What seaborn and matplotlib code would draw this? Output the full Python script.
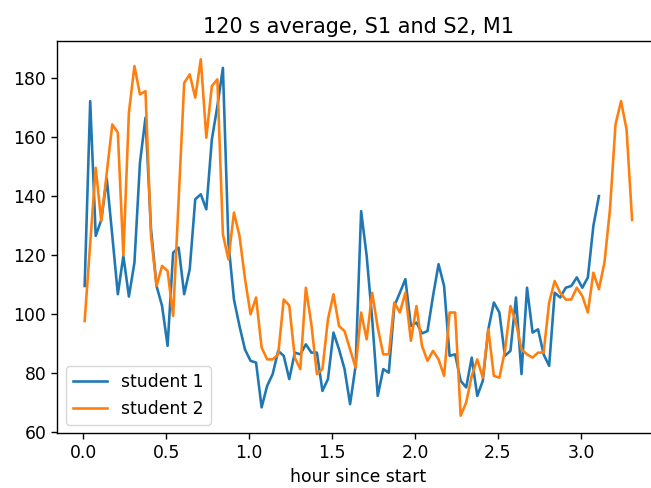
import numpy as np
import pandas as pd
import matplotlib
matplotlib.use("Agg")
import matplotlib.pyplot as plt
import seaborn as sns

# 120 s averages
student_1 = [109.6, 172.3, 126.6, 132.0, 146.0, 126.6, 106.8, 119.8, 106.0, 117.5,
             151.4, 166.7, 128.8, 109.6, 102.8, 89.3, 120.9, 122.6, 106.8, 115.3,
             139.0, 140.7, 135.6, 159.3, 170.6, 183.6, 124.3, 105.0, 96.0, 88.0,
             84.2, 83.6, 68.4, 75.7, 79.7, 87.6, 85.9, 78.0, 87.0, 86.4,
             89.8, 87.0, 87.0, 74.0, 78.0, 93.8, 88.1, 81.4, 69.5, 82.5,
             135.0, 119.8, 98.3, 72.3, 81.4, 80.2, 102.8, 107.3, 111.9, 96.0,
             97.2, 93.5, 94.3, 106.2, 117.0, 109.6, 85.9, 86.4, 77.4, 75.2,
             85.3, 72.3, 77.4, 94.9, 104.0, 100.6, 85.9, 87.6, 105.7, 79.7,
             109.0, 93.8, 94.9, 86.4, 82.5, 107.3, 105.7, 109.0, 109.6, 112.5,
             109.0, 112.5, 130.0, 140.1]

student_2 = [97.7, 124.0, 149.7, 131.6, 148.0, 164.4, 161.6, 120.0, 168.4, 184.2,
             174.6, 175.7, 126.6, 109.6, 116.4, 114.7, 99.4, 139.0, 178.5, 181.4,
             173.5, 186.5, 159.9, 177.4, 179.7, 127.1, 118.6, 134.5, 126.6, 112.0,
             100.0, 105.7, 88.7, 84.7, 84.7, 86.4, 105.0, 103.0, 85.3, 81.4,
             109.0, 96.6, 79.7, 81.4, 98.3, 106.8, 96.0, 94.3, 88.1, 81.9,
             100.6, 91.5, 107.3, 95.5, 86.4, 86.4, 104.0, 100.6, 107.3, 91.0,
             102.8, 89.3, 84.2, 87.6, 84.7, 79.1, 100.6, 100.6, 65.6, 70.1,
             79.1, 84.7, 78.5, 94.9, 79.1, 78.5, 87.6, 102.8, 97.2, 88.1,
             86.4, 85.3, 87.0, 87.0, 104.0, 111.3, 107.3, 105.0, 105.0, 109.0,
             106.2, 100.6, 114.1, 108.5, 117.5, 135.6, 164.4, 172.3, 162.7, 132.0]

labels = ["student 1", "student 2"]

# one sample per 120 s window, placed 30 s into the window
def hours(n):
    return (np.arange(n) * 120 + 30) / 3600

df = pd.concat([
    pd.DataFrame({"hour": hours(len(student_1)), "value": student_1, "who": labels[0]}),
    pd.DataFrame({"hour": hours(len(student_2)), "value": student_2, "who": labels[1]}),
])

k = 1.245  # scale of the reference relative to defaults
plt.rcParams.update({
    "font.family": "DejaVu Sans",
    "xtick.labelsize": 10 * k,
    "ytick.labelsize": 10 * k,
    "axes.labelsize": 10 * k,
    "axes.titlesize": 12 * k,
    "legend.fontsize": 10 * k,
    "axes.linewidth": 0.8 * k,
    "xtick.major.size": 3.5 * k,
    "ytick.major.size": 3.5 * k,
    "xtick.major.width": 0.8 * k,
    "ytick.major.width": 0.8 * k,
})

fig = plt.figure(figsize=(6.51, 4.88), dpi=100)
ax = fig.add_axes([0.088, 0.1117, 0.925, 0.8033])

sns.lineplot(data=df, x="hour", y="value", hue="who", estimator=None,
             palette=["#1f77b4", "#ff7f0e"], linewidth=1.5 * k, ax=ax)

ax.set_title("120 s average, S1 and S2, M1")
ax.set_xlabel("hour since start")
ax.set_ylabel("")
ax.set_xticks([0.0, 0.5, 1.0, 1.5, 2.0, 2.5, 3.0])
ax.set_yticks([60, 80, 100, 120, 140, 160, 180])

h, l = ax.get_legend_handles_labels()
ax.legend(h, l, loc="lower left")

fig.savefig("out.png", dpi=100)
